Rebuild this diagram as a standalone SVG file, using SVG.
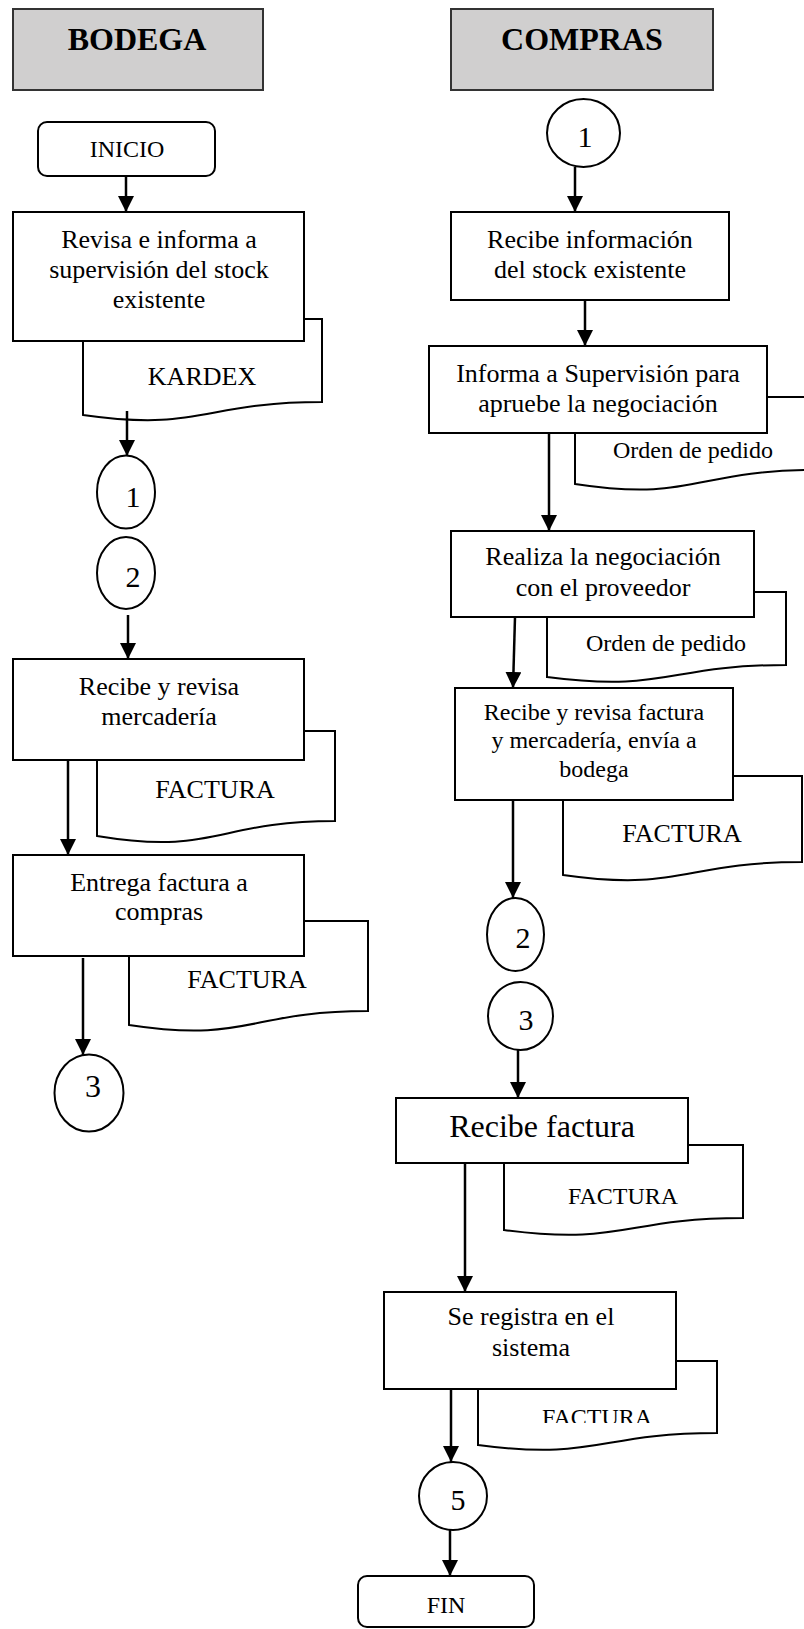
<svg xmlns="http://www.w3.org/2000/svg" width="804" height="1629" viewBox="0 0 804 1629">
  <style>
    .hdr { fill: #d0cfcf; stroke: #333; stroke-width: 2; }
    .box { fill: #fff; stroke: #000; stroke-width: 2; }
    .doc { fill: #fff; stroke: #000; stroke-width: 2; }
    .term { fill: #fff; stroke: #000; stroke-width: 2; }
    .con { fill: #fff; stroke: #000; stroke-width: 2; }
    .edge { fill: none; stroke: #000; stroke-width: 2.5; marker-end: url(#arrow); }
    text { font-family: "Liberation Serif", "Times New Roman", serif; fill: #000; text-anchor: middle; }
    .h { font-size: 32px; font-weight: bold; }
    .t { font-size: 26px; }
    .s { font-size: 24px; }
    .n { font-size: 30px; }
    .b { font-size: 32px; }
  </style>
  <defs>
    <marker id="arrow" markerUnits="userSpaceOnUse" markerWidth="16" markerHeight="16" viewBox="0 0 16 16" refX="16" refY="8" orient="auto">
      <path d="M0,0 L16,8 L0,16 Z" fill="#000"/>
    </marker>
    <clipPath id="cut-factura">
      <rect x="470" y="1380" width="260" height="43"/>
    </clipPath>
  </defs>

  <rect width="804" height="1629" fill="#fff"/>

  <!-- swimlane headers -->
  <g id="hdr-bodega">
    <rect class="hdr" x="13" y="9" width="250" height="81"/>
    <text class="h" x="137" y="50">BODEGA</text>
  </g>
  <g id="hdr-compras">
    <rect class="hdr" x="451" y="9" width="262" height="81"/>
    <text class="h" x="582" y="50">COMPRAS</text>
  </g>

  <!-- documents (drawn under their process boxes) -->
  <g id="doc-kardex">
    <path class="doc" d="M83,319 H322 V402 C202.5,402 202.5,432 83,415 Z"/>
    <text class="t" x="202" y="385">KARDEX</text>
  </g>
  <g id="doc-factura-b1">
    <path class="doc" d="M97,731 H335 V821 C216,821 216,855.7 97,836 Z"/>
    <text class="t" x="215" y="798">FACTURA</text>
  </g>
  <g id="doc-factura-b2">
    <path class="doc" d="M129,921 H368 V1011 C248.5,1011 248.5,1043.3 129,1025 Z"/>
    <text class="t" x="247" y="988">FACTURA</text>
  </g>
  <g id="doc-orden-1">
    <path class="doc" d="M575,397 H814 V470 C694.5,470 694.5,502.3 575,484 Z"/>
    <text class="s" x="693" y="458">Orden de pedido</text>
  </g>
  <g id="doc-orden-2">
    <path class="doc" d="M547,592 H786 V665 C666.5,665 666.5,692.7 547,677 Z"/>
    <text class="s" x="666" y="651">Orden de pedido</text>
  </g>
  <g id="doc-factura-c1">
    <path class="doc" d="M563,776 H802 V862 C682.5,862 682.5,892 563,875 Z"/>
    <text class="t" x="682" y="842">FACTURA</text>
  </g>
  <g id="doc-factura-c2">
    <path class="doc" d="M504,1145 H743 V1218 C623.5,1218 623.5,1245.7 504,1230 Z"/>
    <text class="s" x="623" y="1204">FACTURA</text>
  </g>
  <g id="doc-factura-c3">
    <path class="doc" d="M478,1361 H717 V1433 C597.5,1433 597.5,1460.7 478,1445 Z"/>
    <text class="s" x="597" y="1425" clip-path="url(#cut-factura)">FACTURA</text>
  </g>

  <!-- BODEGA lane -->
  <g id="inicio">
    <rect class="term" x="38" y="122" width="177" height="54" rx="9"/>
    <text class="s" x="127" y="157">INICIO</text>
  </g>
  <g id="b-revisa">
    <rect class="box" x="13" y="212" width="291" height="129"/>
    <text class="t" x="159" y="248">Revisa e informa a</text>
    <text class="t" x="159" y="278">supervisión del stock</text>
    <text class="t" x="159" y="308">existente</text>
  </g>
  <g id="b-con-1">
    <ellipse class="con" cx="126" cy="492" rx="29" ry="36.5"/>
    <text class="n" x="133" y="507">1</text>
  </g>
  <g id="b-con-2">
    <ellipse class="con" cx="126" cy="573" rx="29" ry="36"/>
    <text class="n" x="133" y="587">2</text>
  </g>
  <g id="b-recibe">
    <rect class="box" x="13" y="659" width="291" height="101"/>
    <text class="t" x="159" y="695">Recibe y revisa</text>
    <text class="t" x="159" y="725">mercadería</text>
  </g>
  <g id="b-entrega">
    <rect class="box" x="13" y="855" width="291" height="101"/>
    <text class="t" x="159" y="891">Entrega factura a</text>
    <text class="t" x="159" y="920">compras</text>
  </g>
  <g id="b-con-3">
    <ellipse class="con" cx="89" cy="1093" rx="34.5" ry="38.5"/>
    <text class="n" x="93" y="1097" style="font-size:32px">3</text>
  </g>

  <!-- COMPRAS lane -->
  <g id="c-con-1">
    <ellipse class="con" cx="583.5" cy="133" rx="36.5" ry="34"/>
    <text class="n" x="585" y="147">1</text>
  </g>
  <g id="c-recibe-info">
    <rect class="box" x="451" y="212" width="278" height="88"/>
    <text class="t" x="590" y="248">Recibe información</text>
    <text class="t" x="590" y="278">del stock existente</text>
  </g>
  <g id="c-informa">
    <rect class="box" x="429" y="346" width="338" height="87"/>
    <text class="t" x="598" y="382">Informa a Supervisión para</text>
    <text class="t" x="598" y="412">apruebe la negociación</text>
  </g>
  <g id="c-realiza">
    <rect class="box" x="451" y="531" width="303" height="86"/>
    <text class="t" x="603" y="565">Realiza la negociación</text>
    <text class="t" x="603" y="596">con el proveedor</text>
  </g>
  <g id="c-recibe-revisa">
    <rect class="box" x="455" y="688" width="278" height="112"/>
    <text class="s" x="594" y="720">Recibe y revisa factura</text>
    <text class="s" x="594" y="748">y mercadería, envía a</text>
    <text class="s" x="594" y="777">bodega</text>
  </g>
  <g id="c-con-2">
    <ellipse class="con" cx="515.5" cy="934.5" rx="28.5" ry="36.5"/>
    <text class="n" x="523" y="948">2</text>
  </g>
  <g id="c-con-3">
    <ellipse class="con" cx="520.5" cy="1016" rx="32.5" ry="34"/>
    <text class="n" x="526" y="1030">3</text>
  </g>
  <g id="c-recibe-factura">
    <rect class="box" x="396" y="1098" width="292" height="65"/>
    <text class="b" x="542" y="1137">Recibe factura</text>
  </g>
  <g id="c-registra">
    <rect class="box" x="384" y="1292" width="292" height="97"/>
    <text class="t" x="531" y="1325">Se registra en el</text>
    <text class="t" x="531" y="1356">sistema</text>
  </g>
  <g id="c-con-5">
    <ellipse class="con" cx="453" cy="1496" rx="34" ry="34"/>
    <text class="n" x="458" y="1510">5</text>
  </g>
  <g id="fin">
    <rect class="term" x="358" y="1576" width="176" height="51" rx="9"/>
    <text class="s" x="446" y="1613">FIN</text>
  </g>

  <!-- connectors -->
  <g id="connectors">
    <line class="edge" x1="126" y1="176" x2="126" y2="212"/>
    <line class="edge" x1="127" y1="411" x2="127" y2="456"/>
    <line class="edge" x1="128" y1="615" x2="128" y2="659"/>
    <line class="edge" x1="68" y1="760" x2="68" y2="855"/>
    <line class="edge" x1="83" y1="958" x2="83" y2="1055"/>
    <line class="edge" x1="575" y1="167" x2="575" y2="212"/>
    <line class="edge" x1="585" y1="300" x2="585" y2="346"/>
    <line class="edge" x1="549" y1="433" x2="549" y2="531"/>
    <line class="edge" x1="515" y1="617" x2="513" y2="688"/>
    <line class="edge" x1="513" y1="800" x2="513" y2="898"/>
    <line class="edge" x1="518" y1="1050" x2="518" y2="1098"/>
    <line class="edge" x1="465" y1="1163" x2="465" y2="1292"/>
    <line class="edge" x1="451" y1="1389" x2="451" y2="1462"/>
    <line class="edge" x1="450" y1="1530" x2="450" y2="1576"/>
  </g>
</svg>
